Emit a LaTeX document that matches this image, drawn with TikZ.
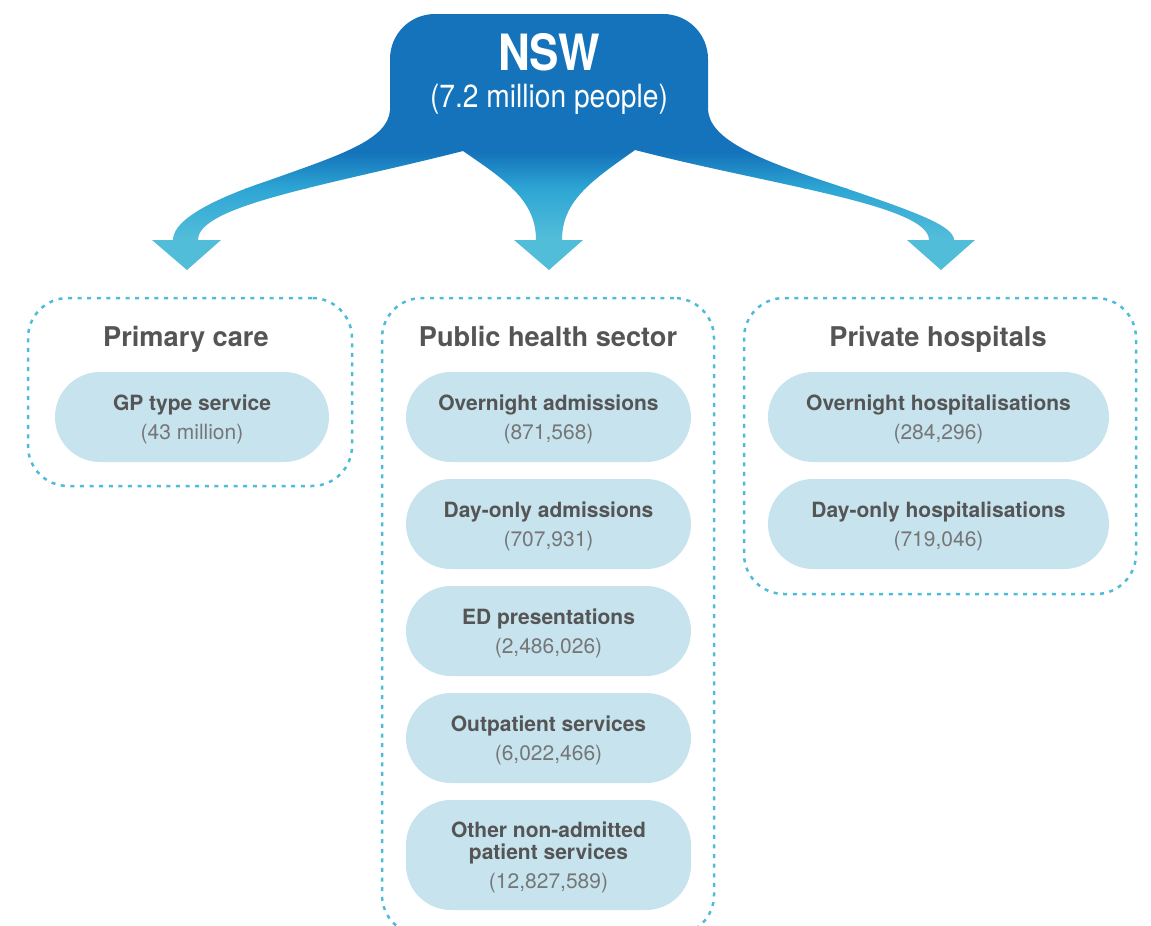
\documentclass[tikz,border=0pt]{standalone}
\usepackage{fontspec}
\setmainfont{TeX Gyre Heros}
\newfontfamily\condfont[FakeStretch=0.88]{TeX Gyre Heros}
\definecolor{NswBlue}{RGB}{20,115,186}
\definecolor{NswMid}{RGB}{45,165,212}
\definecolor{NswCyan}{RGB}{82,189,217}
\definecolor{DashCyan}{RGB}{78,187,216}
\definecolor{PillBlue}{RGB}{198,227,238}
\definecolor{TitleGray}{RGB}{85,85,85}
\definecolor{NumGray}{RGB}{118,118,118}
\newcommand\cnt[1]{{\mdseries\color{NumGray}#1}}

\begin{document}
\begin{tikzpicture}[x=0.5pt,y=-0.5pt,
      group/.style={draw=DashCyan,line width=1.25pt,dash pattern=on 2pt off 2.8pt,rounded corners=20pt,inner sep=0pt},
      head/.style={text=TitleGray,anchor=base,font=\fontsize{13.6}{16}\selectfont\bfseries},
      pill/.style={fill=PillBlue,rounded corners=22.5pt,minimum height=45pt,inner sep=0pt,align=center,text depth=0pt,
                   text=TitleGray,font=\fontsize{10.5}{11}\selectfont\bfseries}]
    \path[use as bounding box] (0,0) rectangle (1151,926);
    \begin{scope}
      \clip (390,59) .. controls (390,34) and (410,14) .. (435,14) -- (663,14)
        .. controls (688,14) and (708,34) .. (708,59) -- (708,110)
        .. controls (710,140) and (760,160) .. (830,183) .. controls (910,210) and (954,225) .. (954,240)
        -- (975,240) -- (941,270) -- (907,240) -- (929,240)
        .. controls (929,205) and (770,185) .. (635,150)
        .. controls (593,180) and (562,200) .. (562,240)
        -- (583,240) -- (549,270) -- (514,240) -- (536,240)
        .. controls (536,200) and (505,180) .. (463,151)
        .. controls (330,185) and (198,205) .. (198,240)
        -- (221,240) -- (187,270) -- (152,240) -- (173,240)
        .. controls (173,225) and (195,205) .. (270,180) .. controls (340,155) and (388,140) .. (390,110) -- cycle;
      \fill[NswBlue] (140,0) rectangle (1000,152);
      \shade[top color=NswBlue,bottom color=NswMid] (140,152) rectangle (1000,188);
      \shade[top color=NswMid,bottom color=NswCyan] (140,188) rectangle (1000,238);
      \fill[NswCyan] (140,238) rectangle (1000,275);
    \end{scope}
    \node[text=white,align=center,inner sep=0pt] (nsw) at (549,74)
      {{\condfont\fontsize{25}{25}\selectfont\bfseries NSW}\\[6.5pt]{\condfont\fontsize{16}{16}\selectfont (7.2 million people)}};

    \node[group,minimum width=162pt,minimum height=94pt] (gprim) at (190,392) {};
    \node[group,minimum width=166pt,minimum height=318.5pt] (gpub) at (548,616.5) {};
    \node[group,minimum width=196pt,minimum height=148pt] (gpriv) at (940,446) {};

    \node[head] (tprim) at (186,346) {Primary care};
    \node[head] (tpub) at (548,346) {Public health sector};
    \node[head] (tpriv) at (938,346) {Private hospitals};

    \node[pill,minimum width=137pt] (gp) at (192,417) {GP type service\\[3.8pt]\cnt{(43 million)}};

    \node[pill,minimum width=142.5pt] (over) at (548.5,417) {Overnight admissions\\[3.8pt]\cnt{(871,568)}};
    \node[pill,minimum width=142.5pt] (day) at (548.5,524) {Day-only admissions\\[3.8pt]\cnt{(707,931)}};
    \node[pill,minimum width=142.5pt] (ed) at (548.5,631) {ED presentations\\[3.8pt]\cnt{(2,486,026)}};
    \node[pill,minimum width=142.5pt] (outp) at (548.5,738) {Outpatient services\\[3.8pt]\cnt{(6,022,466)}};
    \node[pill,minimum width=142.5pt,minimum height=55pt] (other) at (548.5,855)
      {Other non-admitted\\patient services\\[3.8pt]\cnt{(12,827,589)}};

    \node[pill,minimum width=170.5pt] (povr) at (938.5,417) {Overnight hospitalisations\\[3.8pt]\cnt{(284,296)}};
    \node[pill,minimum width=170.5pt] (pday) at (938.5,524) {Day-only hospitalisations\\[3.8pt]\cnt{(719,046)}};
  \end{tikzpicture}
\end{document}
